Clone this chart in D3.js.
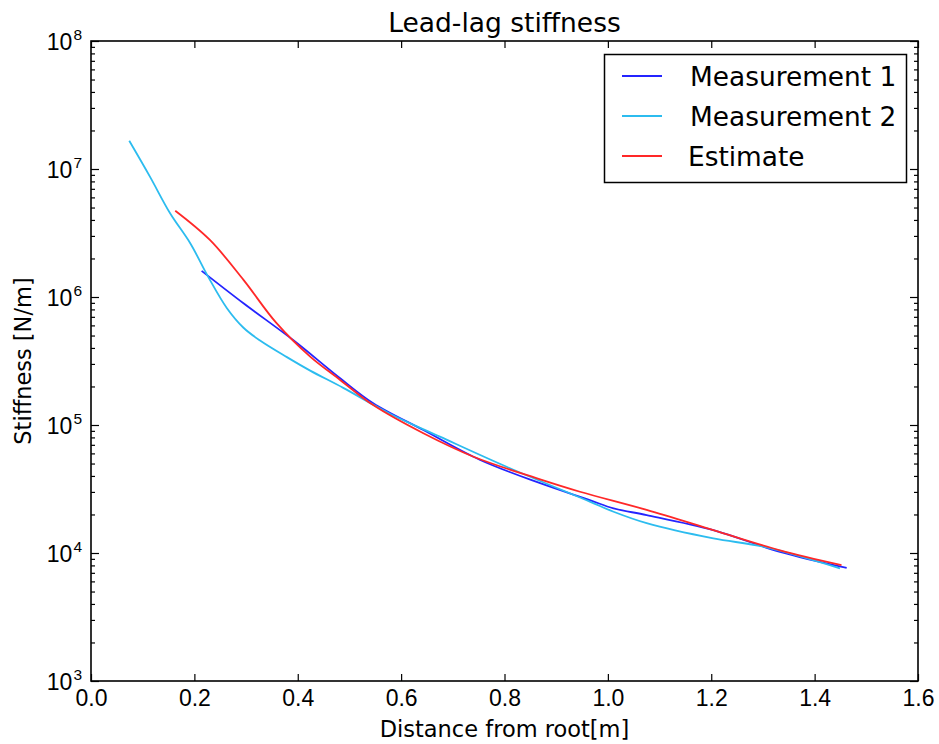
<!DOCTYPE html>
<html>
<head>
<meta charset="utf-8">
<script src="https://cdn.jsdelivr.net/npm/d3@7"></script>
<style>
  body { margin: 0; background: #fff; }
  svg { font-family: "DejaVu Sans", sans-serif; }
</style>
</head>
<body>
<div id="chart"></div>
<script>
// Data (x in m, y in N/m)
const meas1X = [0.214, 0.295, 0.391, 0.482, 0.546, 0.643, 0.753, 0.869, 0.965, 1.011, 1.075, 1.204, 1.333, 1.462];
const meas1Y = [1.60e6, 8.93e5, 4.61e5, 2.32e5, 1.48e5, 9.14e4, 5.33e4, 3.51e4, 2.59e4, 2.23e4, 1.98e4, 1.51e4, 1.02e4, 7.64e3];

const meas2X = [0.074, 0.114, 0.153, 0.192, 0.227, 0.263, 0.295, 0.327, 0.379, 0.424, 0.488, 0.579, 0.675, 0.804, 0.965, 1.011, 1.075, 1.204, 1.301, 1.449];
const meas2Y = [1.66e7, 8.71e6, 4.51e6, 2.63e6, 1.43e6, 8.17e5, 5.75e5, 4.57e5, 3.39e5, 2.66e5, 1.95e5, 1.22e5, 8.11e4, 4.72e4, 2.52e4, 2.10e4, 1.71e4, 1.30e4, 1.12e4, 7.59e3];

const estX = [0.163, 0.230, 0.295, 0.359, 0.424, 0.482, 0.546, 0.643, 0.740, 0.869, 0.946, 1.075, 1.204, 1.333, 1.452];
const estY = [4.72e6, 2.79e6, 1.36e6, 6.24e5, 3.42e5, 2.25e5, 1.43e5, 8.61e4, 5.65e4, 3.76e4, 3.01e4, 2.17e4, 1.51e4, 1.05e4, 8.05e3];

const seriesNames = ["Measurement 1", "Measurement 2", "Estimate"];
const xTicks = [0, 0.2, 0.4, 0.6, 0.8, 1.0, 1.2, 1.4, 1.6];
const yTicks = [1e3, 1e4, 1e5, 1e6, 1e7, 1e8];

const series = [
  {name: seriesNames[0], x: meas1X, y: meas1Y, color: "#2424ff"},
  {name: seriesNames[1], x: meas2X, y: meas2Y, color: "#2cbcef"},
  {name: seriesNames[2], x: estX, y: estY, color: "#ff2828"}
];

const width = 939, height = 744;
const marginLeft = 91, marginRight = 21, marginTop = 41, marginBottom = 63;

const xScale = d3.scaleLinear([0, 1.6], [marginLeft, width - marginRight]);
const yScale = d3.scaleLog([1e3, 1e8], [height - marginBottom, marginTop]);

const svg = d3.select("#chart").append("svg")
    .attr("width", width)
    .attr("height", height);

// minor ticks for log axis
const yMinor = [];
for (let k = 3; k < 8; k++) for (let m = 2; m <= 9; m++) yMinor.push(m * 10 ** k);

// lines
const line = d3.line()
    .x(d => xScale(d[0]))
    .y(d => yScale(d[1]))
    .curve(d3.curveCatmullRom.alpha(0.5));

svg.append("g")
  .selectAll("path")
  .data(series)
  .join("path")
    .attr("fill", "none")
    .attr("stroke", d => d.color)
    .attr("stroke-width", 1.8)
    .attr("d", d => line(d.x.map((v, i) => [v, d.y[i]])));

// x axis bottom
svg.append("g")
    .attr("transform", `translate(0,${height - marginBottom})`)
    .call(d3.axisBottom(xScale).tickValues(xTicks).tickFormat(d3.format(".1f"))
      .tickSize(-7).tickPadding(9).tickSizeOuter(0))
    .call(g => g.selectAll("text").attr("font-size", 23).attr("fill", "#000"))
    .call(g => g.select(".domain").remove());

// x axis top
svg.append("g")
    .attr("transform", `translate(0,${marginTop})`)
    .call(d3.axisTop(xScale).tickValues(xTicks).tickFormat("").tickSize(-7).tickSizeOuter(0))
    .call(g => g.select(".domain").remove());

// y axis left, major
svg.append("g")
    .attr("transform", `translate(${marginLeft},0)`)
    .call(d3.axisLeft(yScale).tickValues(yTicks).tickFormat("").tickSize(-8).tickPadding(9).tickSizeOuter(0))
    .call(g => g.select(".domain").remove())
    .call(g => g.selectAll(".tick text")
      .attr("font-size", 23).attr("fill", "#000").attr("dy", "0.36em")
      .each(function(d) {
        const t = d3.select(this);
        t.append("tspan").text("10");
        t.append("tspan").attr("font-size", 15.5).attr("dy", -10).attr("dx", 1)
          .text(String(Math.round(Math.log10(d))));
      }));

// y axis left, minor
svg.append("g")
    .attr("transform", `translate(${marginLeft},0)`)
    .call(d3.axisLeft(yScale).tickValues(yMinor).tickFormat("").tickSize(-4).tickSizeOuter(0))
    .call(g => g.select(".domain").remove());

// y axis right, major + minor
svg.append("g")
    .attr("transform", `translate(${width - marginRight},0)`)
    .call(d3.axisRight(yScale).tickValues(yTicks).tickFormat("").tickSize(-8).tickSizeOuter(0))
    .call(g => g.select(".domain").remove());
svg.append("g")
    .attr("transform", `translate(${width - marginRight},0)`)
    .call(d3.axisRight(yScale).tickValues(yMinor).tickFormat("").tickSize(-4).tickSizeOuter(0))
    .call(g => g.select(".domain").remove());

svg.selectAll(".tick line").attr("stroke", "#000").attr("stroke-width", 1.2);

// frame
svg.append("rect")
    .attr("x", marginLeft)
    .attr("y", marginTop)
    .attr("width", width - marginLeft - marginRight)
    .attr("height", height - marginTop - marginBottom)
    .attr("fill", "none")
    .attr("stroke", "#000")
    .attr("stroke-width", 1.6);

// title + labels
svg.append("text")
    .attr("x", (marginLeft + width - marginRight) / 2)
    .attr("y", 32)
    .attr("text-anchor", "middle")
    .attr("font-size", 26.5)
    .text("Lead-lag stiffness");

svg.append("text")
    .attr("x", (marginLeft + width - marginRight) / 2)
    .attr("y", 737)
    .attr("text-anchor", "middle")
    .attr("font-size", 22.5)
    .text("Distance from root[m]");

svg.append("text")
    .attr("transform", `translate(31,${(marginTop + height - marginBottom) / 2}) rotate(-90)`)
    .attr("text-anchor", "middle")
    .attr("font-size", 22.5)
    .text("Stiffness [N/m]");

// legend
const legend = svg.append("g");
legend.append("rect")
    .attr("x", 604.5)
    .attr("y", 54.5)
    .attr("width", 302)
    .attr("height", 128)
    .attr("fill", "#fff")
    .attr("stroke", "#000")
    .attr("stroke-width", 1.5);

const item = legend.selectAll("g.item")
  .data(series)
  .join("g")
    .attr("class", "item")
    .attr("transform", (d, i) => `translate(0,${76 + i * 40})`);

item.append("line")
    .attr("x1", 622).attr("x2", 662)
    .attr("stroke", d => d.color)
    .attr("stroke-width", 1.8);

item.append("text")
    .attr("x", (d, i) => i === 2 ? 688 : 690)
    .attr("y", 10)
    .attr("font-size", 26.4)
    .text(d => d.name);
</script>
</body>
</html>
